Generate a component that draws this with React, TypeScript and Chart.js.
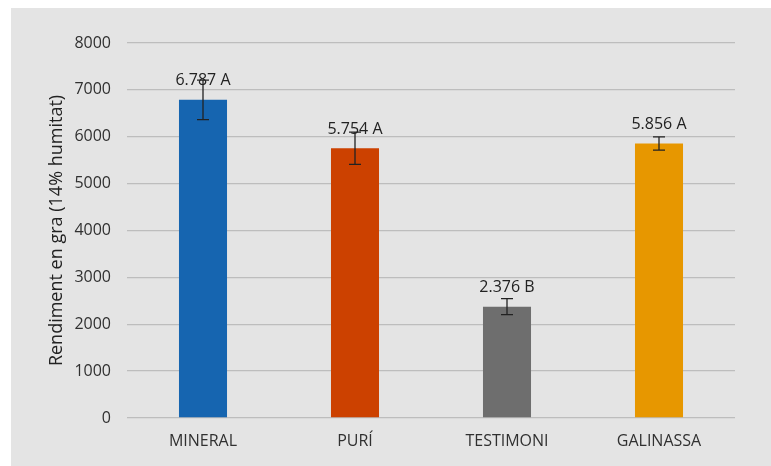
import React, { useEffect, useRef } from "react";
import { Chart, registerables } from "chart.js";

Chart.register(...registerables);

const categories = ["MINERAL", "PURÍ", "TESTIMONI", "GALINASSA"];
const values = [6787, 5754, 2376, 5856];
const errors = [420, 345, 170, 142];
const groupLetters = ["A", "A", "B", "A"];
const barColors = ["#1665b0", "#cc4100", "#6e6e6e", "#e79700"];
const yTicks = [0, 1000, 2000, 3000, 4000, 5000, 6000, 7000, 8000];
const yTitle = "Rendiment en gra (14% humitat)";

const FONT = "'Open Sans', 'Noto Sans', sans-serif";

function fmt(v: number): string {
  const s = String(Math.round(v));
  return s.replace(/\B(?=(\d{3})+(?!\d))/g, ".");
}

const overlayPlugin = {
  id: "overlay",
  afterDatasetsDraw(chart: any) {
    const ctx = chart.ctx;
    const meta = chart.getDatasetMeta(0);
    const y = chart.scales.y;
    ctx.save();
    meta.data.forEach((bar: any, i: number) => {
      const x = bar.x;
      const top = y.getPixelForValue(values[i] + errors[i]);
      const bot = y.getPixelForValue(values[i] - errors[i]);
      ctx.strokeStyle = "#222222";
      ctx.lineWidth = 1.3;
      ctx.beginPath();
      ctx.moveTo(x, top);
      ctx.lineTo(x, bot);
      ctx.moveTo(x - 6, top);
      ctx.lineTo(x + 6, top);
      ctx.moveTo(x - 6, bot);
      ctx.lineTo(x + 6, bot);
      ctx.stroke();
      ctx.fillStyle = "#222222";
      ctx.font = `500 16px ${FONT}`;
      ctx.textAlign = "center";
      ctx.textBaseline = "middle";
      const by = y.getPixelForValue(values[i]);
      ctx.fillText(`${fmt(values[i])} ${groupLetters[i]}`, x, by - 19);
    });
    ctx.restore();
  },
};

export default function App() {
  const ref = useRef<HTMLCanvasElement | null>(null);
  useEffect(() => {
    if (!ref.current) return;
    const chart = new Chart(ref.current, {
      type: "bar",
      data: {
        labels: categories,
        datasets: [
          {
            data: values,
            backgroundColor: barColors,
            borderWidth: 0,
            barPercentage: 0.316,
            categoryPercentage: 1,
          },
        ],
      },
      plugins: [overlayPlugin],
      options: {
        animation: false,
        responsive: false,
        maintainAspectRatio: false,
        layout: { padding: { left: 0, right: 36, top: 35, bottom: 0 } },
        plugins: { legend: { display: false }, tooltip: { enabled: false } },
        scales: {
          x: {
            grid: { display: false, drawTicks: false },
            border: { display: false },
            ticks: {
              color: "#303030",
              font: { family: FONT, size: 16 },
              padding: 14,
            },
            afterFit: (s: any) => {
              s.height = 48;
            },
          },
          y: {
            min: 0,
            max: 8000,
            afterBuildTicks: (s: any) => {
              s.ticks = yTicks.map((v) => ({ value: v }));
            },
            grid: { color: "#bdbdbd", lineWidth: 1.3, drawTicks: false },
            border: { display: false },
            ticks: {
              color: "#303030",
              font: { family: FONT, size: 16 },
              padding: 16,
              callback: (v: any) => String(v),
            },
            title: {
              display: true,
              text: yTitle,
              color: "#222222",
              font: { family: FONT, size: 18 },
              padding: { top: 35, bottom: 0 },
            },
            afterFit: (s: any) => {
              s.width = 116;
            },
          },
        },
      },
    });
    return () => chart.destroy();
  }, []);
  return (
    <div
      style={{
        position: "absolute",
        left: 11,
        top: 8,
        width: 760,
        height: 458,
        background: "#e4e4e4",
      }}
    >
      <canvas ref={ref} width={760} height={458} style={{ display: "block" }} />
    </div>
  );
}
